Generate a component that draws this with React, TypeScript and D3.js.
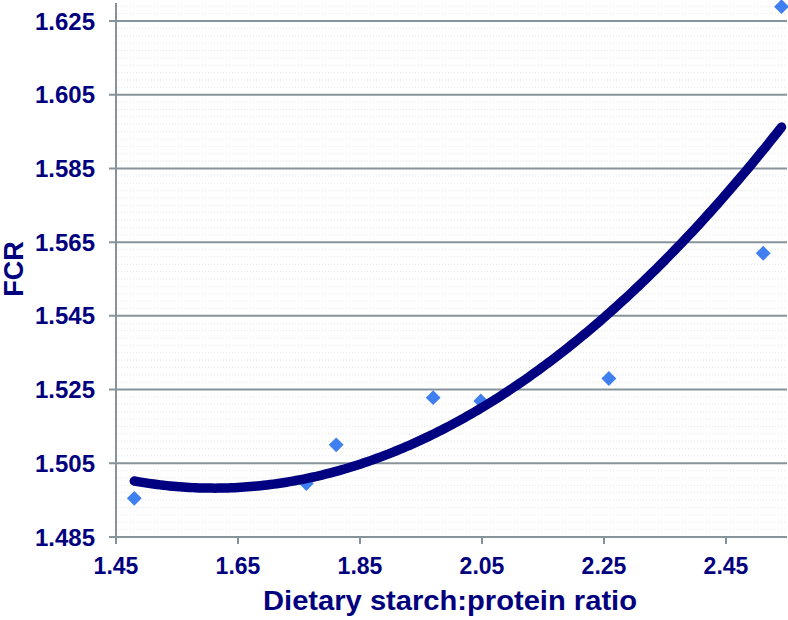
import React from "react";
import * as d3 from "d3";

const ratioX = [1.48, 1.762, 1.811, 1.97, 2.048, 2.258, 2.511, 2.541];
const fcrY = [1.4955, 1.4995, 1.51, 1.5228, 1.5219, 1.528, 1.562, 1.6289];
const xTicks = [1.45, 1.65, 1.85, 2.05, 2.25, 2.45];
const yTicks = [1.485, 1.505, 1.525, 1.545, 1.565, 1.585, 1.605, 1.625];
const xTitle = "Dietary starch:protein ratio";
const yTitle = "FCR";

// least-squares quadratic trendline from the data
function quadFit(xs: number[], ys: number[]) {
  const n = xs.length;
  let s = [0, 0, 0, 0, 0];
  let t = [0, 0, 0];
  for (let i = 0; i < n; i++) {
    let p = 1;
    for (let k = 0; k < 5; k++) {
      s[k] += p;
      if (k < 3) t[k] += p * ys[i];
      p *= xs[i];
    }
  }
  const M = [
    [s[0], s[1], s[2], t[0]],
    [s[1], s[2], s[3], t[1]],
    [s[2], s[3], s[4], t[2]],
  ];
  for (let c = 0; c < 3; c++) {
    let piv = c;
    for (let r = c + 1; r < 3; r++) if (Math.abs(M[r][c]) > Math.abs(M[piv][c])) piv = r;
    [M[c], M[piv]] = [M[piv], M[c]];
    for (let r = 0; r < 3; r++) {
      if (r === c) continue;
      const f = M[r][c] / M[c][c];
      for (let k = c; k < 4; k++) M[r][k] -= f * M[c][k];
    }
  }
  return [M[0][3] / M[0][0], M[1][3] / M[1][1], M[2][3] / M[2][2]];
}

export default function App() {
  const W = 788, H = 620;
  const x = d3.scaleLinear().domain([1.45, 2.55]).range([116, 787]);
  const y = d3.scaleLinear().domain([1.485, 1.63]).range([537, 2.6]);
  const navy = "#00007f";
  const grid = "#87939a";
  const [c0, c1, c2] = quadFit(ratioX, fcrY);
  const xmin = d3.min(ratioX)!, xmax = d3.max(ratioX)!;
  const curvePts: [number, number][] = d3.range(0, 201).map((i) => {
    const xv = xmin + ((xmax - xmin) * i) / 200;
    return [x(xv), y(c0 + c1 * xv + c2 * xv * xv)];
  });
  const line = d3.line();
  const minor = d3.range(1.487, 1.63, 0.002).filter((v) => Math.abs(((v - 1.485) / 0.02) % 1) > 0.05 && Math.abs(((v - 1.485) / 0.02) % 1) < 0.95);
  const diamond = d3.symbol().type(d3.symbolDiamond2).size(140)();
  return (
    <svg width={W} height={H} style={{ position: "absolute", left: 0, top: 0 }} fontFamily="Liberation Sans, Arial, sans-serif">
      <rect width={W} height={H} fill="#fff" />
      {minor.map((v, i) => (
        <line key={"m" + i} x1={118} x2={787} y1={y(v)} y2={y(v)} stroke="#e6e6e6" strokeWidth={1} strokeDasharray="1 2" />
      ))}
      {yTicks.map((v) => (
        <g key={"y" + v}>
          <line x1={109} x2={787} y1={y(v)} y2={y(v)} stroke={grid} strokeWidth={2} />
          <text x={95} y={y(v) + 8.6} textAnchor="end" fontSize={24} fontWeight="bold" fill={navy}>
            {v.toFixed(3)}
          </text>
        </g>
      ))}
      <line x1={116} x2={116} y1={3} y2={544} stroke={grid} strokeWidth={2} />
      {xTicks.map((v) => (
        <g key={"x" + v}>
          <line x1={x(v)} x2={x(v)} y1={537} y2={544} stroke={grid} strokeWidth={2} />
          <text x={x(v)} y={574} textAnchor="middle" fontSize={23} fontWeight="bold" fill={navy}>
            {v.toFixed(2)}
          </text>
        </g>
      ))}
      {ratioX.map((v, i) => (
        <path key={"p" + i} d={diamond!} transform={`translate(${x(v)},${y(fcrY[i])})`} fill="#3f7ff0" />
      ))}
      <path d={line(curvePts)!} fill="none" stroke="#000080" strokeWidth={9.5} strokeLinecap="round" />
      <text x={450} y={610} textAnchor="middle" fontSize={27} fontWeight="bold" fill={navy} textLength={374} lengthAdjust="spacingAndGlyphs">
        {xTitle}
      </text>
      <text transform="translate(23,269) rotate(-90)" textAnchor="middle" fontSize={27} fontWeight="bold" fill={navy}>
        {yTitle}
      </text>
    </svg>
  );
}
